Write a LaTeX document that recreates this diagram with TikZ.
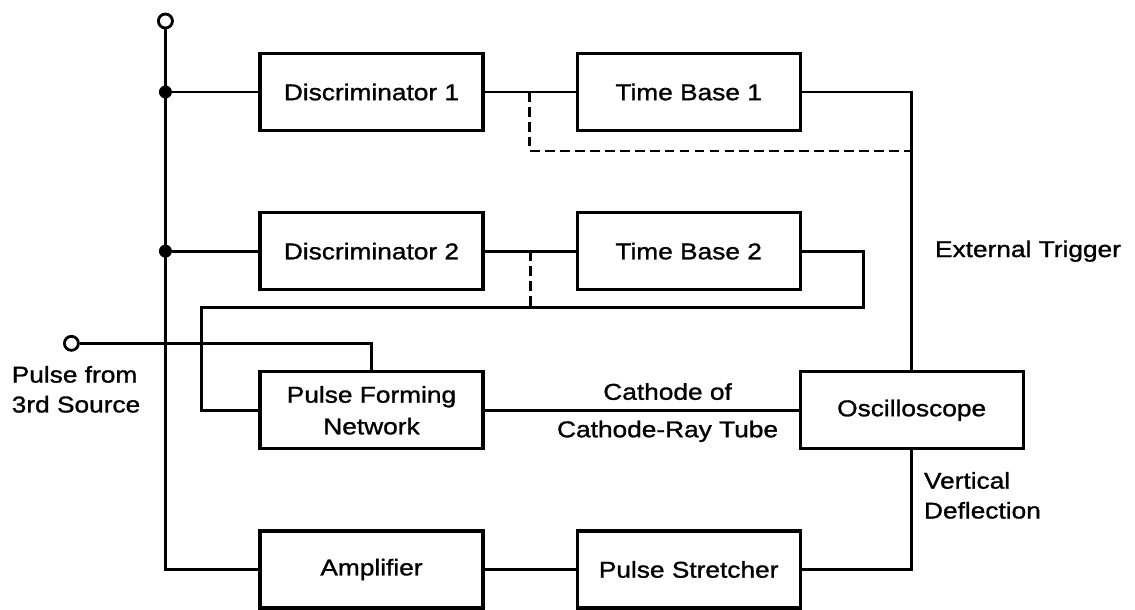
\documentclass[tikz,border=0pt]{standalone}
\usepackage{fontspec}
\setmainfont{Liberation Sans}[FakeStretch=1.15, FakeBold=1.2]
\usetikzlibrary{positioning}

\begin{document}
\begin{tikzpicture}[block/.style={draw, line width=1.8pt, minimum width=4.46cm, minimum height=1.54cm, align=center, font=\fontsize{13}{18}\selectfont}, lbl/.style={inner sep=0pt, align=left, font=\fontsize{13}{17}\selectfont}, port/.style={draw, circle, fill=white, line width=1.6pt, inner sep=0pt, minimum size=0.28cm}, joint/.style={fill=black, circle, inner sep=0pt, minimum size=0.26cm}, wire/.style={line width=1.7pt}, trig/.style={line width=1.7pt, dash pattern=on 5.5pt off 3pt}]
    \useasboundingbox (0,0) rectangle (22.7,-12.18);

    \node[block] (D1) at (7.43,-1.84) {Discriminator 1};
    \node[block, right=1.82cm of D1] (TB1) {Time Base 1};
    \node[block, below=1.58cm of D1] (D2) {Discriminator 2};
    \node[block, right=1.82cm of D2] (TB2) {Time Base 2};
    \node[block, below=1.58cm of D2] (PFN) {Pulse Forming\\Network};
    \node[block, right=6.28cm of PFN] (Osc) {Oscilloscope};
    \node[block, below=1.58cm of PFN] (Amp) {Amplifier};
    \node[block, right=1.82cm of Amp] (PS) {Pulse Stretcher};

    \node[port] (in1) at ([xshift=-1.86cm, yshift=1.42cm]D1.west) {};
    \node[joint] (j1) at (in1 |- D1) {};
    \node[joint] (j2) at (in1 |- D2) {};
    \coordinate (bend) at (in1 |- Amp);
    \node[port] (in2) at ([xshift=-3.74cm, yshift=1.34cm]PFN.west) {};

    \coordinate (lp1) at ([xshift=1.24cm]TB2.east);
    \coordinate (lp2) at ([yshift=-1.12cm]lp1);
    \coordinate (lpx) at ([xshift=-1.14cm]PFN.west);
    \coordinate (t1) at ([xshift=0.9cm]D1.east);
    \coordinate (t1b) at ([yshift=-1.18cm]t1);
    \coordinate (t2) at ([xshift=0.92cm]D2.east);

    \path[draw, wire]
        (j1) edge (D1)
        (j2) edge (D2)
        (D1) edge (TB1)
        (D2) edge (TB2)
        (Amp) edge (PS)
        (PFN) edge (Osc)
        ;
    \draw[wire] (in1) -- (bend) -- (Amp);
    \draw[wire] (TB1) -- (TB1 -| Osc) -- (Osc);
    \draw[wire] (Osc) -- (Osc |- PS) -- (PS);
    \draw[wire] (TB2) -- (lp1) -- (lp2) -- (lpx |- lp2) -- (lpx |- PFN) -- (PFN);
    \draw[wire] (in2) -- (in2 -| PFN) -- (PFN);
    \draw[trig] (t1) -- (t1b) -- (t1b -| Osc);
    \draw[trig] (t2) -- (t2 |- lp2);

    \coordinate (ex) at (TB2 -| Osc);
    \node[lbl, anchor=west] (ext) at ([xshift=0.46cm]ex) {External Trigger};
    \coordinate (cat) at ([xshift=3.66cm]PFN.east);
    \node[lbl, above=0.2cm of cat] (cat1) {Cathode of};
    \node[lbl, below=0.2cm of cat] (cat2) {Cathode-Ray Tube};
    \node[lbl, anchor=west] (vd) at ([xshift=0.24cm, yshift=-0.9cm]Osc.south) {Vertical\\Deflection};
    \node[lbl, anchor=west] (src) at ([xshift=-1.2cm, yshift=-0.92cm]in2) {Pulse from\\3rd Source};
\end{tikzpicture}
\end{document}
